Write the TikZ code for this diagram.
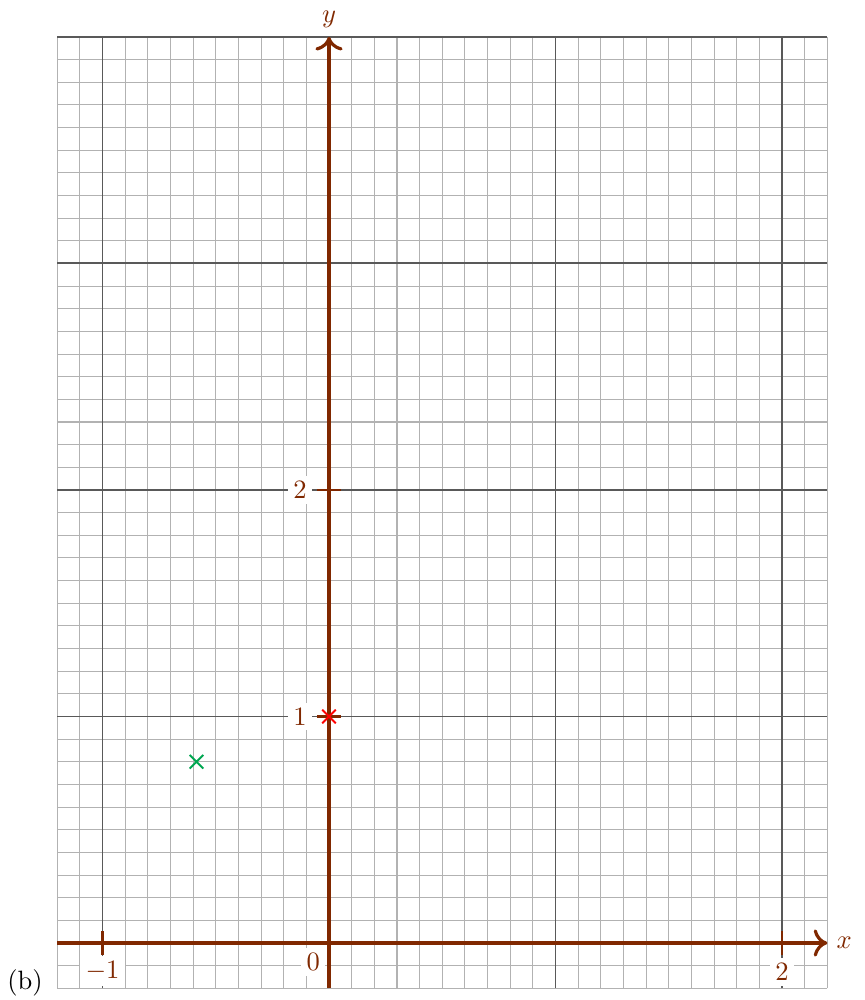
\documentclass[tikz,border=0pt]{standalone}
\usepackage{amsmath, amssymb}
\usepackage{xcolor}
\usepackage{tikz}
\usetikzlibrary{arrows.meta}

\definecolor{axisbrown}{RGB}{128,40,0}
\definecolor{markgreen}{RGB}{0,166,80}

\tikzset{
  ticklabel/.style={fill=white, text=axisbrown, font=\normalsize, inner sep=2pt},
  axisline/.style={draw=axisbrown, line width=1.2pt},
  tickline/.style={draw=axisbrown, line width=0.9pt},
  crossmark/.style={line width=0.7pt},
}

\begin{document}
\begin{tikzpicture}[x=3cm,y=3cm]
\useasboundingbox (-1.4525,-0.2517) rectangle (2.362,4.163);

% grid
\foreach \i in {-12,...,22}
  \draw[black!30, line width=0.4pt] (\i/10,-0.2) -- (\i/10,4);
\foreach \j in {-2,...,40}
  \draw[black!30, line width=0.4pt] (-1.2,\j/10) -- (2.2,\j/10);
\foreach \i in {-1,...,2}
  \draw[black!65, line width=0.7pt] (\i,-0.2) -- (\i,4);
\foreach \j in {0,...,4}
  \draw[black!65, line width=0.7pt] (-1.2,\j) -- (2.2,\j);

\coordinate (O) at (0,0);
\coordinate (xmin) at (-1.2,0);
\coordinate (xmax) at (2.2,0);
\coordinate (ymin) at (0,-0.2);
\coordinate (ymax) at (0,4.0);

% tick labels
\node[ticklabel] (lxm1) at (-1,-0.124) {$-1$};
\node[ticklabel] (lx2) at (2,-0.128) {$2$};
\node[ticklabel] (ly1) at (-0.128,1) {$1$};
\node[ticklabel] (ly2) at (-0.128,2) {$2$};
\node[ticklabel] (l0) at (-0.07,-0.084) {$0$};

% axes
\draw[axisline, -{To[length=1.8mm,width=3.6mm]}] (xmin) -- (xmax);
\draw[axisline, -{To[length=1.8mm,width=3.6mm]}] (ymin) -- (ymax);
\node[text=axisbrown, right] (xlab) at (xmax) {$x$};
\node[text=axisbrown, above] (ylab) at (ymax) {$y$};

% ticks
\draw[tickline] (-1,-0.053) -- (-1,0.053);
\draw[tickline] (2,-0.053) -- (2,0.053);
\draw[tickline] (-0.053,1) -- (0.053,1);
\draw[tickline] (-0.053,2) -- (0.053,2);

% points
\draw[crossmark, markgreen] (-0.585,0.8) ++(-0.03,-0.03) -- ++(0.06,0.06) ++(0,-0.06) -- ++(-0.06,0.06);
\draw[crossmark, red] (0,1) ++(-0.03,-0.03) -- ++(0.06,0.06) ++(0,-0.06) -- ++(-0.06,0.06);

\node (caption) at (-1.342,-0.177) {(b)};
\end{tikzpicture}
\end{document}
